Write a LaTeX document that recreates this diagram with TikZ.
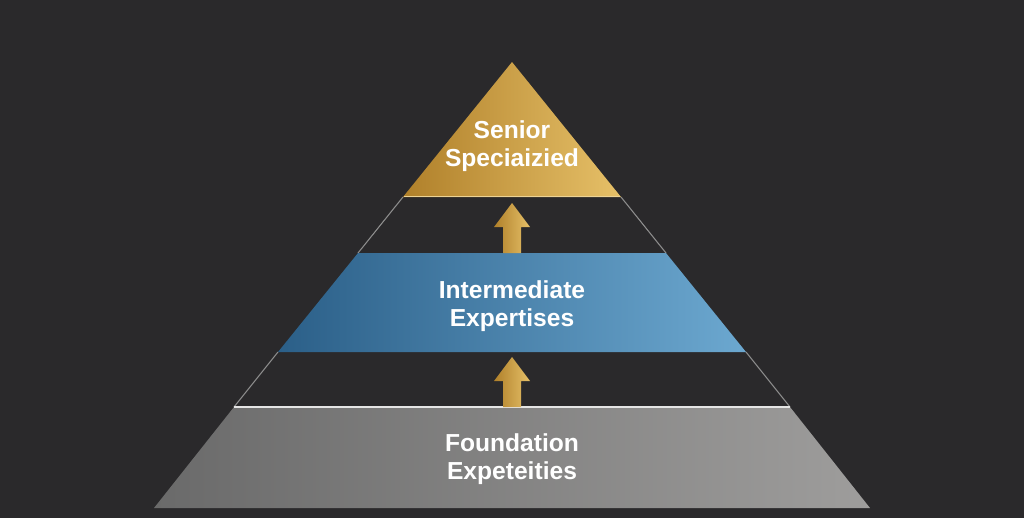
\documentclass[tikz,border=0pt]{standalone}
\usepackage{fontspec}
\setmainfont{Liberation Sans}
\usepackage{tikz}

\definecolor{bgdark}{HTML}{2A292B}
\definecolor{goldA}{HTML}{B0802A}
\definecolor{goldB}{HTML}{E6C068}
\definecolor{blueA}{HTML}{2B5F88}
\definecolor{blueB}{HTML}{6CA8D0}
\definecolor{grayA}{HTML}{6A6A6A}
\definecolor{grayB}{HTML}{9E9D9C}
\definecolor{edge}{HTML}{8E8E8E}

\tikzset{
  tierlabel/.style={text=white, font=\fontsize{14}{16}\selectfont\bfseries, align=center},
  sideline/.style={edge, line width=0.6pt},
  uparrow/.style={left color=goldA, right color=goldB}
}

\begin{document}
\begin{tikzpicture}[x=0.02cm, y=-0.02cm]
\fill[bgdark] (0,0) rectangle (1024,518);
\useasboundingbox (0,0) rectangle (1024,518);
% outline of the empty bands
\draw[sideline] (403,197) -- (358,253);
\draw[sideline] (621,197) -- (666,253);
\draw[sideline] (278,352) -- (234,407);
\draw[sideline] (746,352) -- (790,407);
% foundation tier
\shade[left color=grayA, right color=grayB] (234,407) -- (790,407) -- (870,508) -- (154,508) -- cycle;
\draw[white!80!gray, line width=1pt] (234,407) -- (790,407);
% intermediate tier
\shade[left color=blueA, right color=blueB] (358,253) -- (666,253) -- (746,352) -- (278,352) -- cycle;
% senior tier
\shade[left color=goldA, right color=goldB] (512,62) -- (621,197) -- (403,197) -- cycle;
\draw[goldB!70!white, line width=0.8pt] (404,196.5) -- (620,196.5);
% arrows between the tiers
\shade[uparrow] (503,253) -- (503,227) -- (494,227) -- (512,203) -- (530,227) -- (521,227) -- (521,253) -- cycle;
\shade[uparrow] (503,407) -- (503,381) -- (494,381) -- (512,357) -- (530,381) -- (521,381) -- (521,407) -- cycle;
% labels
\node[tierlabel] (senior) at (512,146) {Senior\\Speciaizied};
\node[tierlabel] (inter) at (512,306) {Intermediate\\Expertises};
\node[tierlabel] (found) at (512,459) {Foundation\\Expeteities};
\end{tikzpicture}
\end{document}
